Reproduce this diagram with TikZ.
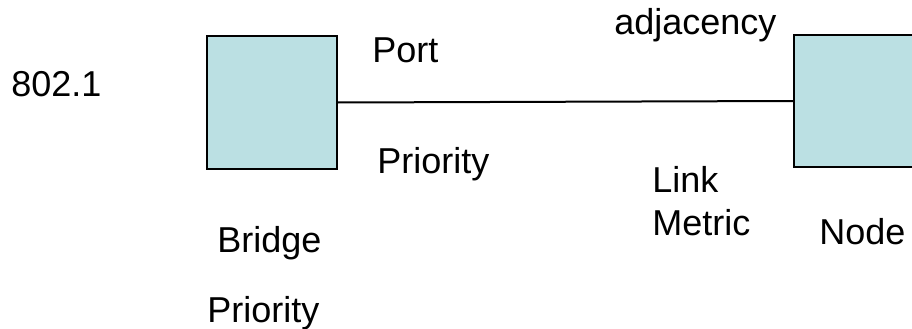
\documentclass[tikz,border=0pt]{standalone}
\usepackage{fontspec}
\setmainfont{Liberation Sans}
\usepackage{tikz}

\definecolor{boxfill}{HTML}{BBE0E3}

\tikzset{
	box/.style={draw, line width=1.5pt, fill=boxfill, inner sep=0pt,
		minimum width=97.5pt, minimum height=99.5pt},
	lbl/.style={anchor=base west, inner sep=0pt, font=\fontsize{27}{32}\selectfont}
}

\begin{document}
\begin{tikzpicture}[x=0.75pt,y=-0.75pt]
	\useasboundingbox (0,0) rectangle (912,328);
	\clip (0,0) rectangle (912,328);
	\node [box] (bridge) at (272,102.5) {};
	\node [box] (nodebox) at (859,101) {};
	\node [lbl] (std) at (11,96) {802.1};
	\node [lbl] (port) at (372,63) {Port};
	\node [lbl] (pprio) at (377,173) {Priority};
	\node [lbl] (adj) at (614,35) {adjacency};
	\node [lbl] (link) at (652,192) {Link};
	\node [lbl] (metric) at (652,235) {Metric};
	\node [lbl] (nodelbl) at (819,244) {Node};
	\node [lbl] (brg) at (217,252) {Bridge};
	\node [lbl] (bprio) at (207,322) {Priority};
	\draw [line width=1.5pt]
	(bridge.east) -- (nodebox.west);
\end{tikzpicture}
\end{document}
